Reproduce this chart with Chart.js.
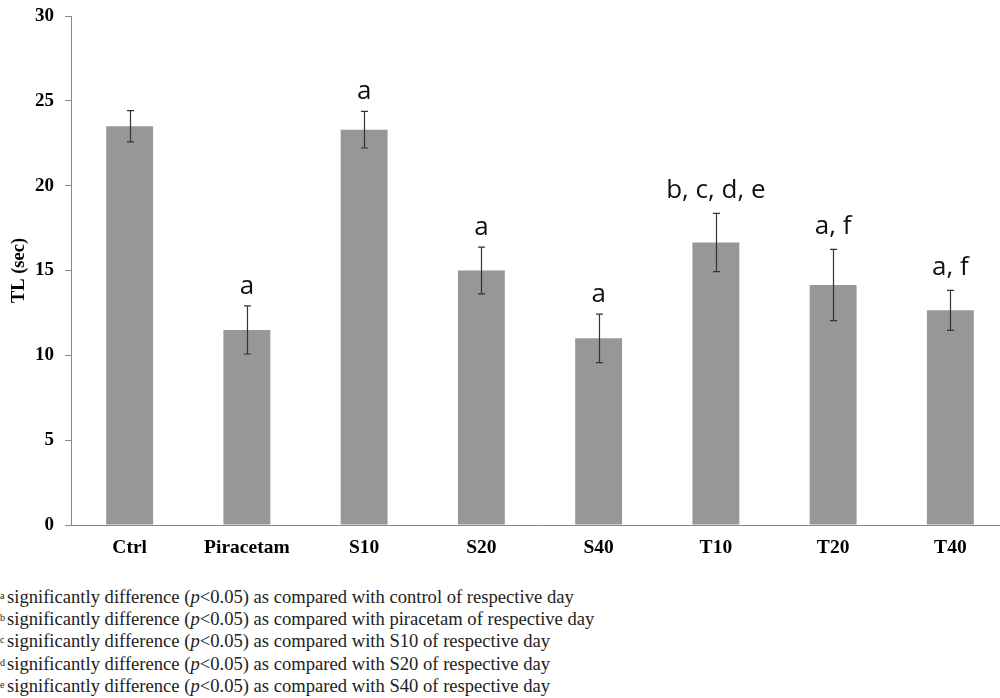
<!DOCTYPE html>
<html>
<head>
<meta charset="utf-8">
<script src="https://cdn.jsdelivr.net/npm/chart.js@4/dist/chart.umd.min.js"></script>
<style>
  html, body { margin: 0; padding: 0; background: #fff; width: 1000px; height: 698px; overflow: hidden; position: relative; }
  #wrap { position: absolute; left: 0; top: 0; width: 1009px; height: 565px; }
  #notes { position: absolute; left: 0; top: 586px; font-family: "Liberation Serif", "Times New Roman", serif; font-size: 18.6px; line-height: 22.2px; color: #222; white-space: nowrap; }
  #notes sup { font-size: 10px; position: relative; top: -1px; vertical-align: top; display: inline-block; width: 7px; }
</style>
</head>
<body>
<div id="wrap"><canvas id="c" width="1009" height="565"></canvas></div>
<div id="notes"></div>
<script>
const categories = ['Ctrl', 'Piracetam', 'S10', 'S20', 'S40', 'T10', 'T20', 'T40'];
const means = [23.5, 11.5, 23.3, 15.0, 11.0, 16.65, 14.15, 12.65];
const errors = [0.92, 1.42, 1.08, 1.38, 1.43, 1.72, 2.1, 1.18];
const sigLabels = ['', 'a', 'a', 'a', 'a', 'b, c, d, e', 'a, f', 'a, f'];
const yMin = 0, yMax = 30, yStep = 5;
const yTitle = 'TL (sec)';
const noteMarks = ['a', 'b', 'c', 'd', 'e'];
const noteTargets = ['control', 'piracetam', 'S10', 'S20', 'S40'];

document.getElementById('notes').innerHTML = noteMarks.map((m, i) =>
  '<div><sup>' + m + '</sup>significantly difference (<i>p</i>&lt;0.05) as compared with ' + noteTargets[i] + ' of respective day</div>'
).join('');

const errorBars = {
  id: 'errorBars',
  afterDatasetsDraw(chart) {
    const ctx = chart.ctx;
    const y = chart.scales.y;
    const meta = chart.getDatasetMeta(0);
    ctx.save();
    meta.data.forEach((el, i) => {
      const x = Math.round(el.x) + 0.5;
      const top = y.getPixelForValue(means[i] + errors[i]);
      const bot = y.getPixelForValue(means[i] - errors[i]);
      ctx.strokeStyle = '#333';
      ctx.lineWidth = 1.2;
      ctx.beginPath();
      ctx.moveTo(x, top); ctx.lineTo(x, bot);
      ctx.moveTo(x - 3.5, top); ctx.lineTo(x + 3.5, top);
      ctx.moveTo(x - 3.5, bot); ctx.lineTo(x + 3.5, bot);
      ctx.stroke();
      const lab = sigLabels[i];
      if (lab) {
        ctx.font = '26px "Open Sans"';
        ctx.fillStyle = '#111';
        ctx.textAlign = 'center';
        ctx.textBaseline = 'alphabetic';
        const d = ctx.measureText(lab).actualBoundingBoxDescent || 0;
        ctx.fillText(lab, el.x, top - 12 - d);
      }
    });
    ctx.restore();
  }
};

new Chart(document.getElementById('c'), {
  type: 'bar',
  data: {
    labels: categories,
    datasets: [{
      data: means,
      backgroundColor: '#979797',
      borderWidth: 0,
      barPercentage: 0.4,
      categoryPercentage: 1.0
    }]
  },
  options: {
    responsive: false,
    animation: false,
    layout: { padding: { top: 16, left: 0, right: 0, bottom: 0 } },
    plugins: { legend: { display: false }, tooltip: { enabled: false } },
    scales: {
      x: {
        grid: { display: true, drawOnChartArea: false, drawTicks: false },
        border: { display: true, color: '#888', width: 1 },
        ticks: {
          color: '#000',
          padding: 11,
          font: { family: 'Liberation Serif', size: 19.5, weight: 'bold' }
        },
        afterFit(s) { s.height = 40; s.paddingLeft = 0; s.paddingRight = 0; }
      },
      y: {
        min: yMin, max: yMax,
        grid: { display: true, drawOnChartArea: false, drawTicks: true, tickLength: 6, color: '#888' },
        border: { display: true, color: '#888', width: 1 },
        ticks: {
          stepSize: yStep,
          color: '#000',
          padding: 11,
          font: { family: 'Liberation Serif', size: 19, weight: 'bold' }
        },
        title: {
          display: true,
          text: yTitle,
          color: '#000',
          padding: { top: 8, bottom: 0 },
          font: { family: 'Liberation Serif', size: 18.5, weight: 'bold' }
        },
        afterFit(s) { s.width = 71; s.paddingTop = 0; s.paddingBottom = 0; }
      }
    }
  },
  plugins: [errorBars]
});
</script>
</body>
</html>
